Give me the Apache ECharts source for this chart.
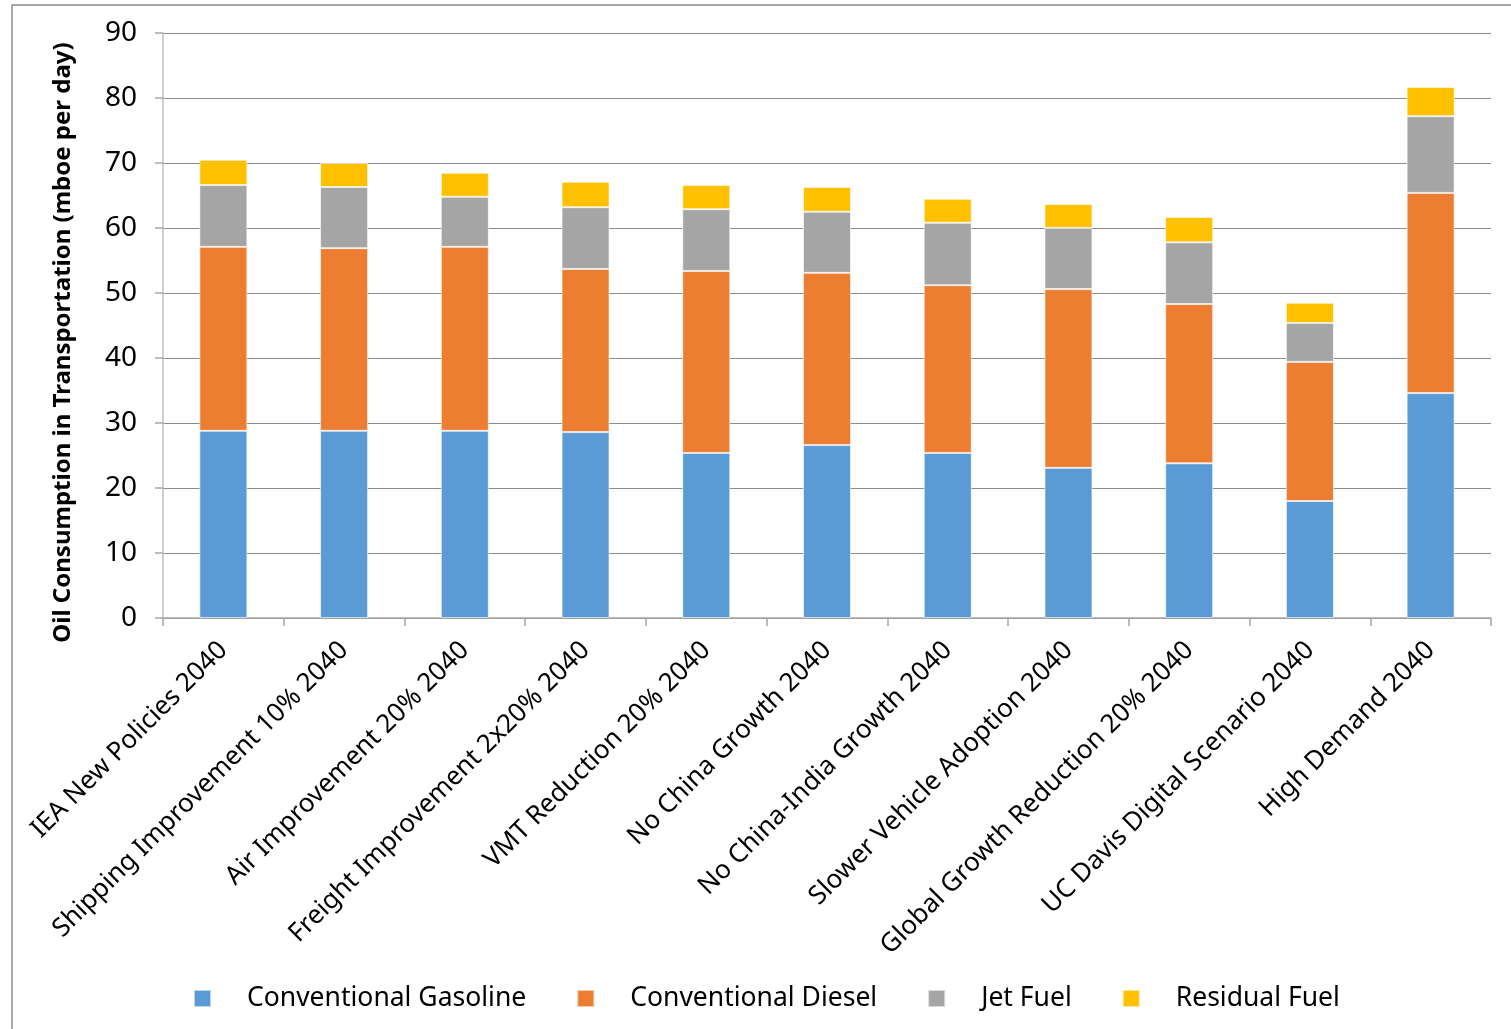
<!DOCTYPE html>
<html>
<head>
<meta charset="utf-8">
<title>Oil Consumption in Transportation</title>
<script src="https://cdn.jsdelivr.net/npm/echarts@6/dist/echarts.min.js"></script>
<style>
    html, body { margin: 0; padding: 0; background: #fff; }
    #chart { width: 1511px; height: 1029px; }
</style>
</head>
<body>
<div id="chart"></div>
<script type="text/javascript">
// scenarios (x axis)
var scenarios = ['IEA New Policies 2040', 'Shipping Improvement 10% 2040', 'Air Improvement 20% 2040',
    'Freight Improvement 2x20% 2040', 'VMT Reduction 20% 2040', 'No China Growth 2040',
    'No China-India Growth 2040', 'Slower Vehicle Adoption 2040', 'Global Growth Reduction 20% 2040',
    'UC Davis Digital Scenario 2040', 'High Demand 2040'];

// mboe per day
var gasoline = [28.8, 28.8, 28.8, 28.6, 25.4, 26.6, 25.4, 23.1, 23.8, 18.0, 34.6];
var diesel   = [28.3, 28.1, 28.3, 25.1, 28.0, 26.5, 25.8, 27.5, 24.5, 21.4, 30.8];
var jetFuel  = [9.5, 9.4, 7.7, 9.5, 9.5, 9.4, 9.6, 9.4, 9.5, 6.0, 11.8];
var residual = [3.9, 3.7, 3.7, 3.9, 3.7, 3.8, 3.7, 3.7, 3.9, 3.1, 4.5];

var yTicks = [0, 10, 20, 30, 40, 50, 60, 70, 80, 90];

var font = '"Noto Sans", sans-serif';
var chart = echarts.init(document.getElementById('chart'));

function bar(name, data, color) {
    return {
        name: name,
        type: 'bar',
        stack: 'total',
        barWidth: 48,
        data: data,
        itemStyle: { color: color, borderColor: 'rgba(255,255,255,0.6)', borderWidth: 1 }
    };
}

chart.setOption({
    animation: false,
    textStyle: { fontFamily: font },
    graphic: [{
        type: 'rect',
        shape: { x: 12, y: 5, width: 1520, height: 1040 },
        style: { fill: 'none', stroke: '#8c8c8c', lineWidth: 1.5 },
        silent: true
    }],
    grid: { left: 163, right: 20, top: 33, bottom: 411 },
    legend: {
        left: 188,
        top: 980,
        itemWidth: 17,
        itemHeight: 17,
        itemGap: 50,
        icon: 'rect',
        textStyle: { fontFamily: font, fontSize: 26.5, color: '#000', padding: [0, 0, 0, 31] },
        data: ['Conventional Gasoline', 'Conventional Diesel', 'Jet Fuel', 'Residual Fuel']
    },
    xAxis: {
        type: 'category',
        data: scenarios,
        axisLine: { lineStyle: { color: '#a6a6a6', width: 1.5 } },
        axisTick: { show: true, length: 8, lineStyle: { color: '#a6a6a6', width: 1.5 } },
        axisLabel: {
            rotate: 45,
            interval: 0,
            margin: 28,
            fontSize: 26,
            color: '#000',
            fontFamily: font
        }
    },
    yAxis: {
        type: 'value',
        min: yTicks[0],
        max: yTicks[yTicks.length - 1],
        interval: 10,
        name: 'Oil Consumption in Transportation (mboe per day)',
        nameLocation: 'middle',
        nameGap: 88,
        nameTextStyle: { fontSize: 24, fontWeight: 'bold', color: '#000', fontFamily: font, padding: [0, 34, 0, 0] },
        axisLine: { show: true, lineStyle: { color: '#bfbfbf', width: 1.5 } },
        axisTick: { show: true, length: 8, lineStyle: { color: '#a6a6a6', width: 1.5 } },
        axisLabel: { fontSize: 28, color: '#000', margin: 26, fontFamily: font },
        splitLine: { lineStyle: { color: '#8c8c8c', width: 1.2 } }
    },
    series: [
        bar('Conventional Gasoline', gasoline, '#5B9BD5'),
        bar('Conventional Diesel', diesel, '#ED7D31'),
        bar('Jet Fuel', jetFuel, '#A5A5A5'),
        bar('Residual Fuel', residual, '#FFC000')
    ]
});
</script>
</body>
</html>
